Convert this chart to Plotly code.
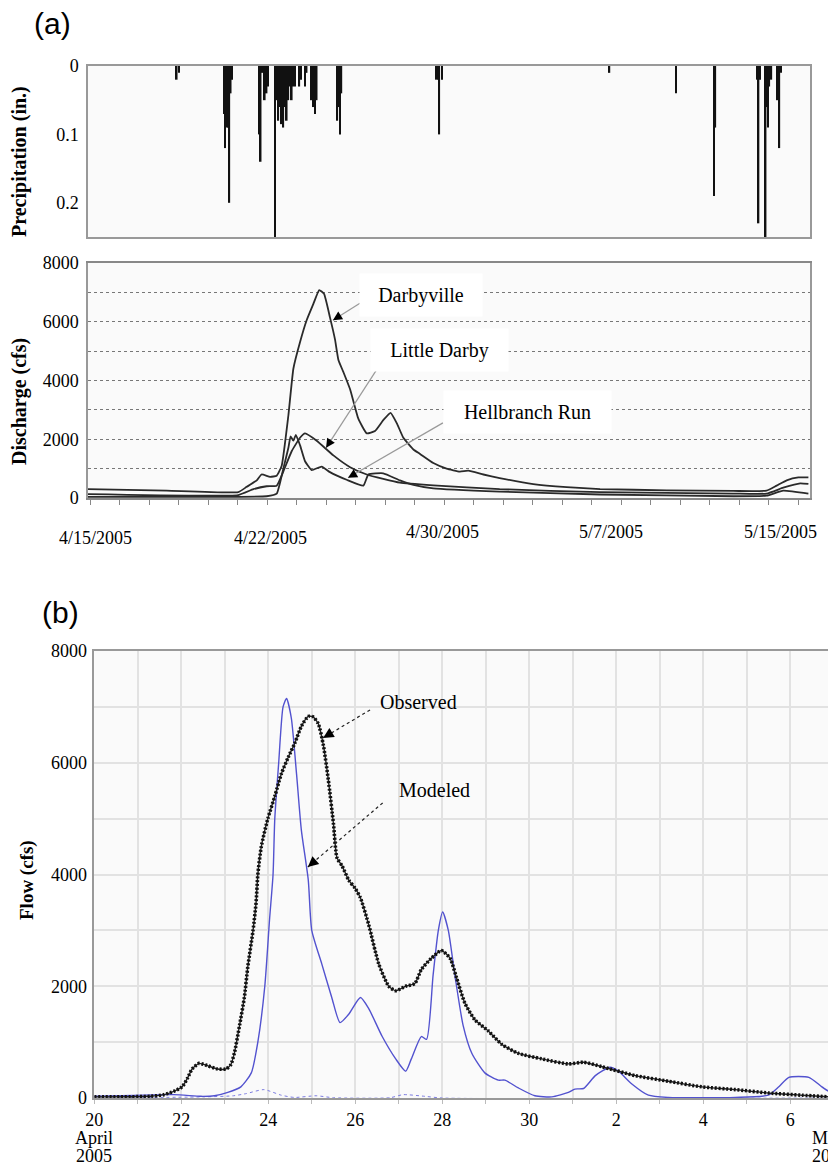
import plotly.graph_objects as go

W, H = 828, 1167

# ---------------- Panel (a): precipitation (days since 4/15/2005) ----------------
precip_day = [3.88, 3.98, 5.95, 6.00, 6.08, 6.12, 6.18, 6.24, 6.30,
              7.51, 7.55, 7.64, 7.73, 7.81, 7.87,
              8.18, 8.25, 8.32, 8.40, 8.47, 8.54, 8.61, 8.69, 8.76, 8.83, 8.91, 8.98, 9.05,
              9.24, 9.31, 9.49, 9.56, 9.78, 9.85, 9.93, 10.00,
              10.90, 10.96, 11.02, 11.08,
              15.25, 15.32, 15.36, 15.47, 22.80, 25.71, 27.37, 27.43,
              29.27, 29.32, 29.38, 29.63, 29.67, 29.73, 29.79, 29.88, 30.14, 30.23, 30.30]
precip_in = [0.02, 0.01, 0.07, 0.12, 0.09, 0.09, 0.20, 0.04, 0.02,
             0.10, 0.14, 0.01, 0.05, 0.04, 0.03,
             0.25, 0.05, 0.08, 0.06, 0.085, 0.09, 0.06, 0.08, 0.05, 0.03, 0.05, 0.03, 0.03,
             0.03, 0.02, 0.03, 0.01, 0.05, 0.06, 0.07, 0.05,
             0.08, 0.06, 0.10, 0.04,
             0.02, 0.02, 0.10, 0.02, 0.01, 0.04, 0.19, 0.09,
             0.02, 0.23, 0.02, 0.25, 0.06, 0.09, 0.03, 0.02, 0.05, 0.12, 0.01]

# ---------------- Panel (a): discharge ----------------
darby_day = [0, 3.44, 6.57, 6.94, 7.38, 7.59, 7.96, 8.25, 8.47, 8.76, 8.98, 9.27, 9.56, 9.85,
             10.11, 10.32, 10.58, 10.80, 10.95, 11.16, 11.46, 11.82, 12.19, 12.55, 12.91,
             13.23, 13.50, 13.79, 14.23, 14.52, 15.10, 15.68, 16.26, 16.63, 17.29, 18.00,
             19.47, 20.93, 22.39, 25.31, 28.22, 29.67, 30.11, 30.55, 31.06, 31.50]
darby_cfs = [300, 250, 200, 380, 600, 800, 720, 760, 1100, 2800, 4400, 5300, 6050, 6600,
             7080, 6950, 6150, 5400, 4700, 4300, 3700, 2700, 2200, 2280, 2650,
             2900, 2550, 2050, 1650, 1500, 1190, 1000, 900, 930, 800, 680,
             475, 370, 305, 260, 240, 250, 420, 600, 700, 700]

little_day = [0, 6.57, 7.23, 7.81, 8.25, 8.54, 8.91, 9.27, 9.49, 10.0, 10.73, 11.46, 12.19,
              12.91, 13.64, 15.10, 18.0, 22.39, 28.22, 29.67, 30.4, 31.14, 31.5]
little_cfs = [130, 100, 300, 400, 420, 900, 1600, 2050, 2200, 1950, 1450, 1050, 800,
              650, 520, 430, 300, 200, 150, 150, 350, 500, 480]

hell_day = [0, 6.57, 7.81, 8.25, 8.54, 8.76, 8.86, 8.98, 9.09, 9.27, 9.49, 9.78, 10.22, 10.58,
            11.31, 12.04, 12.26, 12.91, 13.64, 14.23, 15.10, 18.0, 22.39, 28.22, 29.67, 30.4, 31.5]
hell_cfs = [40, 40, 60, 150, 1000, 1700, 2100, 1950, 2150, 1800, 1250, 950, 1070, 880,
            620, 420, 800, 840, 600, 450, 330, 220, 120, 60, 80, 250, 150]

date_labels = ["4/15/2005", "4/22/2005", "4/30/2005", "5/7/2005", "5/15/2005"]
date_label_day = [0.31, 7.96, 15.48, 22.87, 30.30]
date_label_ypx = [538, 538, 532, 532, 532]

# ---------------- Panel (b): observed vs modeled (days since 4/20/2005) ----------------
obs_day = [0, 1.29, 1.6, 1.83, 2.02, 2.14, 2.25, 2.41, 2.6, 2.83, 3.03, 3.14, 3.22, 3.34, 3.45,
           3.53, 3.65, 3.72, 3.76, 3.84, 3.99, 4.15, 4.3, 4.46, 4.61, 4.76, 4.92, 5.03, 5.15,
           5.27, 5.38, 5.5, 5.58, 5.7, 5.85, 6.0, 6.12, 6.31, 6.54, 6.77, 6.93, 7.16, 7.37,
           7.52, 7.75, 7.98, 8.18, 8.33, 8.52, 8.75, 9.06, 9.37, 9.75, 10.29, 10.9, 11.25,
           11.67, 12.44, 13.2, 13.97, 14.74, 15.5, 16.27, 16.9]
obs_cfs = [20, 30, 60, 120, 200, 350, 520, 620, 580, 520, 520, 600, 800, 1300, 1800,
           2350, 3000, 3500, 4000, 4500, 5000, 5400, 5800, 6100, 6350, 6650, 6830, 6820, 6700,
           6300, 5700, 4900, 4300, 4150, 3900, 3750, 3580, 3100, 2400, 2000, 1920, 2000, 2050,
           2300, 2500, 2640, 2500, 2150, 1700, 1400, 1200, 960, 800, 700, 610, 640,
           560, 400, 300, 200, 150, 90, 50, 20]

mod_day = [0, 1.83, 2.45, 2.76, 3.07, 3.37, 3.61, 3.76, 3.92, 4.03, 4.11, 4.15, 4.24, 4.34,
           4.42, 4.53, 4.65, 4.76, 4.92, 5.0, 5.23, 5.46, 5.65, 5.85, 6.12, 6.31, 6.62, 6.93,
           7.16, 7.29, 7.52, 7.64, 7.79, 7.91, 8.01, 8.14, 8.29, 8.48, 8.68, 8.98, 9.29, 9.44,
           9.75, 10.13, 10.52, 10.9, 11.05, 11.25, 11.52, 11.86, 12.05, 12.36, 12.74, 13.2,
           14.74, 15.5, 15.74, 15.97, 16.43, 16.73, 16.92]
mod_cfs = [30, 60, 30, 40, 100, 200, 450, 1000, 2000, 3200, 4000, 5000, 6000, 7000,
           7150, 6800, 5800, 4800, 3900, 3000, 2400, 1800, 1350, 1500, 1800, 1600, 1100, 700,
           480, 700, 1100, 1050, 2200, 3000, 3330, 3000, 2200, 1300, 800, 450, 320, 320,
           180, 40, 20, 100, 160, 170, 400, 550, 480, 250, 50, 10,
           10, 50, 200, 370, 370, 200, 100]

low_day = [0, 2.5, 3.2, 3.5, 3.9, 4.3, 4.6, 5.1, 5.5, 6.8, 7.1, 7.6, 8.0, 16.9]
low_cfs = [0, 20, 40, 80, 150, 50, 10, 40, 5, 5, 60, 30, 0, 0]

b_tick_day = [0, 2, 4, 6, 8, 10, 12, 14, 16]
b_tick_text = ["20", "22", "24", "26", "28", "30", "2", "4", "6"]


def px(x):
    return x / W


def py(y):
    return 1 - y / H


SERIF = "Liberation Serif"
SANS = "Liberation Sans"

fig = go.Figure()

fig.add_trace(go.Bar(x=precip_day, y=precip_in, width=0.07, marker=dict(color="#111", line=dict(width=0)),
                     xaxis="x", yaxis="y", showlegend=False))

for d, v in [(darby_day, darby_cfs), (little_day, little_cfs), (hell_day, hell_cfs)]:
    fig.add_trace(go.Scatter(x=d, y=v, mode="lines", line=dict(color="#2a2a2a", width=1.8, shape="spline", smoothing=0.4),
                             xaxis="x2", yaxis="y2", showlegend=False))

fig.add_trace(go.Scatter(x=low_day, y=low_cfs, mode="lines", line=dict(color="#7c7ce0", width=1, dash="dot", shape="spline", smoothing=0.6),
                         xaxis="x3", yaxis="y3", showlegend=False))
fig.add_trace(go.Scatter(x=mod_day, y=mod_cfs, mode="lines", line=dict(color="#5252cf", width=1.4, shape="spline", smoothing=0.6),
                         xaxis="x3", yaxis="y3", showlegend=False))
fig.add_trace(go.Scatter(x=obs_day, y=obs_cfs, mode="lines", line=dict(color="#222", width=1.4, shape="spline", smoothing=0.6),
                         xaxis="x3", yaxis="y3", showlegend=False))
fig.add_trace(go.Scatter(x=obs_day, y=obs_cfs, mode="lines", line=dict(color="#111", width=3.6, dash="2px,1.8px", shape="spline", smoothing=0.6),
                         xaxis="x3", yaxis="y3", showlegend=False))

tickfont = dict(family=SERIF, size=18, color="black")
xa_dom = [px(88), px(810)]
xrange_a = [0, 31.57]

fig.update_layout(
    width=W, height=H, autosize=False,
    margin=dict(l=0, r=0, t=0, b=0, pad=0, autoexpand=False),
    paper_bgcolor="white", plot_bgcolor="#fafafa",
    xaxis=dict(domain=xa_dom, range=xrange_a, showticklabels=False, showgrid=False, zeroline=False,
               showline=True, mirror=True, linecolor="#999", linewidth=1.5, anchor="y", automargin=False),
    yaxis=dict(domain=[py(237), py(66)], range=[0.25, 0], tickvals=[0, 0.1, 0.2], ticktext=["0", "0.1", "0.2"],
               showgrid=False, zeroline=False, showline=True, mirror=True, linecolor="#999", linewidth=1.5,
               tickfont=tickfont, anchor="x", ticks="", ticklabelstandoff=4, automargin=False),
    xaxis2=dict(domain=xa_dom, range=xrange_a, showticklabels=False, showgrid=False, zeroline=False,
                showline=True, mirror=True, linecolor="#888", linewidth=1.5, anchor="y2", automargin=False,
                tickmode="linear", tick0=0.09, dtick=1.29, ticks="outside", ticklen=5, tickcolor="#888"),
    yaxis2=dict(domain=[py(498), py(263)], range=[0, 8000], tickvals=[0, 2000, 4000, 6000, 8000],
                showgrid=True, griddash="dot", gridcolor="#777", gridwidth=1,
                minor=dict(dtick=1000, showgrid=True, griddash="dot", gridcolor="#777", gridwidth=1),
                zeroline=False, showline=True, mirror=True, linecolor="#999", linewidth=1.5,
                tickfont=tickfont, anchor="x2", ticks="", ticklabelstandoff=4, automargin=False),
    xaxis3=dict(domain=[px(94.3), 1.0], range=[0, 16.87], tickvals=b_tick_day, ticktext=b_tick_text,
                showgrid=True, gridcolor="#e2e2e2", gridwidth=1.5,
                minor=dict(dtick=1, showgrid=True, gridcolor="#e2e2e2", gridwidth=1.5, ticks="outside", ticklen=4, tickcolor="#bbb"),
                ticks="outside", ticklen=4, tickcolor="#bbb",
                zeroline=False, showline=True, mirror=True, linecolor="#999", linewidth=2,
                tickfont=tickfont, anchor="y3", ticklabelstandoff=0, automargin=False),
    yaxis3=dict(domain=[py(1098), py(651)], range=[0, 8000], tickvals=[0, 2000, 4000, 6000, 8000],
                showgrid=True, gridcolor="#e2e2e2", gridwidth=1.5,
                minor=dict(dtick=1000, showgrid=True, gridcolor="#e2e2e2", gridwidth=1.5),
                zeroline=False, showline=True, linecolor="#999", linewidth=1.5,
                tickfont=tickfont, anchor="x3", ticks="", ticklabelstandoff=2, automargin=False),
)


def label(text, x, y, size=18, xref="paper", yref="paper", xanchor="center", yanchor="middle", family=SERIF, **kw):
    d = dict(text=text, x=x, y=y, xref=xref, yref=yref, xanchor=xanchor, yanchor=yanchor, showarrow=False,
             font=dict(family=family, size=size, color="black"))
    d.update(kw)
    return d


ann = []
# panel labels
ann.append(label("(a)", px(52), py(23), size=30, family=SANS))
ann.append(label("(b)", px(61), py(612), size=30, family=SANS))
# axis titles
ann.append(label("<b>Precipitation (in.)</b>", px(19), py(162), size=20, textangle=-90))
ann.append(label("<b>Discharge (cfs)</b>", px(19), py(402), size=20, textangle=-90))
ann.append(label("<b>Flow (cfs)</b>", px(27), py(880), size=19, textangle=-90))
# date labels panel (a)
for lab, d, ypx in zip(date_labels, date_label_day, date_label_ypx):
    ann.append(label(lab, d, py(ypx), xref="x2"))
# extra lines of panel (b) x labels ("May 2005" is cut by the right edge, as in the source)
ann.append(label("April", 0, py(1138), xref="x3"))
ann.append(label("2005", 0, py(1156), xref="x3"))
ann.append(label("May", px(810), py(1138), xanchor="left"))
ann.append(label("2005", px(810), py(1156), xanchor="left"))

# series labels panel (a)
for txt, d, v, w in [("Darbyville", 14.56, 6900, 120), ("Little Darby", 15.37, 5036, 135), ("Hellbranch Run", 19.22, 2913, 165)]:
    ann.append(label(txt, d, v, size=20, xref="x2", yref="y2", bgcolor="white", width=w, height=40))

shapes = []
# arrows panel (a): (tail_x, tail_y, head_x, head_y, dx, dy)
for tx, ty, hx, hy, dx, dy in [(11.89, 6630, 10.71, 6054, 8.5, -5.3),
                               (12.90, 4700, 10.41, 1708, 5.4, -8.4),
                               (15.52, 2557, 11.37, 690, 8.7, -5.0)]:
    shapes.append(dict(type="line", xref="x2", yref="y2", x0=tx, y0=ty, x1=hx, y1=hy,
                       line=dict(color="#999", width=1.2)))
    ann.append(dict(text="", x=hx, y=hy, xref="x2", yref="y2", showarrow=True, ax=dx, ay=dy,
                    arrowhead=2, arrowsize=1.4, arrowwidth=1.3, arrowcolor="black"))

# panel (b) labels and arrows
ann.append(label("Observed", 6.52, 7088, size=20, xref="x3", yref="y3", xanchor="left"))
ann.append(label("Modeled", 6.96, 5513, size=20, xref="x3", yref="y3", xanchor="left"))
for tx, ty, hx, hy, dx, dy in [(6.34, 6945, 5.26, 6444, 8.6, -5.1),
                               (6.63, 5281, 4.91, 4135, 7.6, -6.5)]:
    shapes.append(dict(type="line", xref="x3", yref="y3", x0=tx, y0=ty, x1=hx, y1=hy,
                       line=dict(color="#222", width=1.2, dash="dot")))
    ann.append(dict(text="", x=hx, y=hy, xref="x3", yref="y3", showarrow=True, ax=dx, ay=dy,
                    arrowhead=2, arrowsize=1.5, arrowwidth=1.4, arrowcolor="black"))

fig.update_layout(annotations=ann, shapes=shapes)
fig.write_html("out.html", config={"displayModeBar": False},
               post_script="document.body.style.margin='0px';")
